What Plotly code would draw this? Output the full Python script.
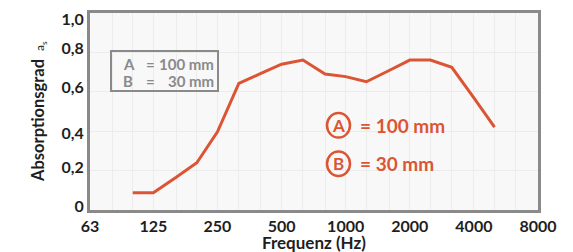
import plotly.graph_objects as go

# Data
freq_hz = [100, 125, 160, 200, 250, 315, 400, 500, 630, 800, 1000, 1250, 1600, 2000, 2500, 3150, 4000, 5000]
absorption = [0.088, 0.088, 0.166, 0.24, 0.397, 0.643, 0.693, 0.74, 0.761, 0.69, 0.677, 0.651, 0.708, 0.761, 0.761, 0.724, 0.569, 0.421]
x_tick_vals = [63, 125, 250, 500, 1000, 2000, 4000, 8000]
x_tick_text = ["63", "125", "250", "500", "1000", "2000", "4000", "8000"]
third_octaves = [63, 80, 100, 125, 160, 200, 250, 315, 400, 500, 630, 800, 1000, 1250, 1600,
                 2000, 2500, 3150, 4000, 5000, 6300, 8000]
y_grid_vals = [0, 0.2, 0.4, 0.6, 0.8, 1.0]
# the reference prints its y labels slightly off the grid lines
y_label_vals = [0.02, 0.218, 0.391, 0.624, 0.822, 0.97]
y_tick_text = ["0", "0,2", "0,4", "0,6", "0,8", "1,0"]

ORANGE = "#db5535"
GREY = "#8a8a8a"
DARK = "#1e1e1e"
FONT = "Lato"

fig = go.Figure()
fig.add_trace(go.Scatter(x=freq_hz, y=absorption, mode="lines",
                         line=dict(color=ORANGE, width=3), hoverinfo="skip"))

# page has an 8px body margin: figure drawn at (8, 8)
OFF = 8
W, H = 573 - OFF, 252 - OFF
PL, PR, PT, PB = 90, 538, 13, 210          # plot area in page pixels
L, R, T, B = PL - OFF, W - (PR - OFF), PT - OFF, H - (PB - OFF)

fig.update_layout(
    width=W, height=H,
    margin=dict(l=L, r=R, t=T, b=B),
    paper_bgcolor="white", plot_bgcolor="#f8f8f8",
    showlegend=False,
    font=dict(family=FONT, color=DARK),
)
fig.update_xaxes(
    type="log", range=[1.79934, 3.90309], automargin=False,
    tickvals=x_tick_vals, ticktext=x_tick_text,
    tickfont=dict(size=16, family=FONT, weight="bold", color=DARK),
    showgrid=False,
    minor=dict(tickvals=third_octaves, showgrid=True, gridcolor="#ececec", gridwidth=1, ticks=""),
    showline=True, linecolor=GREY, linewidth=3, mirror=True,
    ticks="", zeroline=False,
)
fig.update_yaxes(
    range=[0, 1.0], automargin=False,
    tickvals=y_label_vals, ticktext=y_tick_text,
    tickfont=dict(size=16, family=FONT, weight="bold", color=DARK),
    ticklabeloverflow="allow",
    showgrid=False,
    minor=dict(tickvals=y_grid_vals, showgrid=True, gridcolor="#ececec", gridwidth=1, ticks=""),
    showline=True, linecolor=GREY, linewidth=3, mirror=True,
    ticks="", zeroline=False,
)

pw, ph = PR - PL, PB - PT
def px(x):
    return (x - PL) / pw
def py(y):
    return (PB - y) / ph

# axis titles
fig.add_annotation(xref="paper", yref="paper", x=px(314), y=py(242), text="Frequenz (Hz)",
                   showarrow=False, xanchor="center", yanchor="middle", borderpad=0,
                   font=dict(size=17, family=FONT, weight="bold", color=DARK))
fig.add_annotation(xref="paper", yref="paper", x=px(38), y=py(112),
                   text="Absorptionsgrad  <span style='font-weight:normal;font-size:12px'>a<sub>s</sub></span>",
                   textangle=-90, showarrow=False, xanchor="center", yanchor="middle",
                   font=dict(size=16.5, family=FONT, weight="bold", color=DARK))

# inset grey box
fig.add_shape(type="rect", xref="paper", yref="paper",
              x0=px(111), x1=px(218), y0=py(91), y1=py(51),
              line=dict(color=GREY, width=2), fillcolor="rgba(0,0,0,0)")
for yy, letter, val in [(63.5, "A", "100 mm"), (80.5, "B", "30 mm")]:
    fig.add_annotation(xref="paper", yref="paper", x=px(121), y=py(yy), text=letter,
                       showarrow=False, xanchor="left", yanchor="middle",
                       font=dict(size=15, family=FONT, weight="bold", color=GREY))
    fig.add_annotation(xref="paper", yref="paper", x=px(144), y=py(yy), text="=",
                       showarrow=False, xanchor="left", yanchor="middle",
                       font=dict(size=15, family=FONT, weight="bold", color=GREY))
    fig.add_annotation(xref="paper", yref="paper", x=px(216), y=py(yy), text=val,
                       showarrow=False, xanchor="right", yanchor="middle",
                       font=dict(size=15, family=FONT, weight="bold", color=GREY))

# orange legend
CX = 338.5
for cy, letter, val in [(125.3, "A", "= 100 mm"), (163.7, "B", "= 30 mm")]:
    r = 11.5
    fig.add_shape(type="circle", xref="paper", yref="paper",
                  x0=px(CX - r), x1=px(CX + r), y0=py(cy + r + 0.8), y1=py(cy - r - 0.8),
                  line=dict(color=ORANGE, width=2.5), fillcolor="rgba(0,0,0,0)")
    fig.add_annotation(xref="paper", yref="paper", x=px(CX), y=py(cy), text=letter,
                       showarrow=False, xanchor="center", yanchor="middle",
                       font=dict(size=17, family=FONT, weight="bold", color=ORANGE))
    fig.add_annotation(xref="paper", yref="paper", x=px(358), y=py(cy), text=val,
                       showarrow=False, xanchor="left", yanchor="middle",
                       font=dict(size=19, family=FONT, weight="bold", color=ORANGE))

fig.write_html("out.html")
